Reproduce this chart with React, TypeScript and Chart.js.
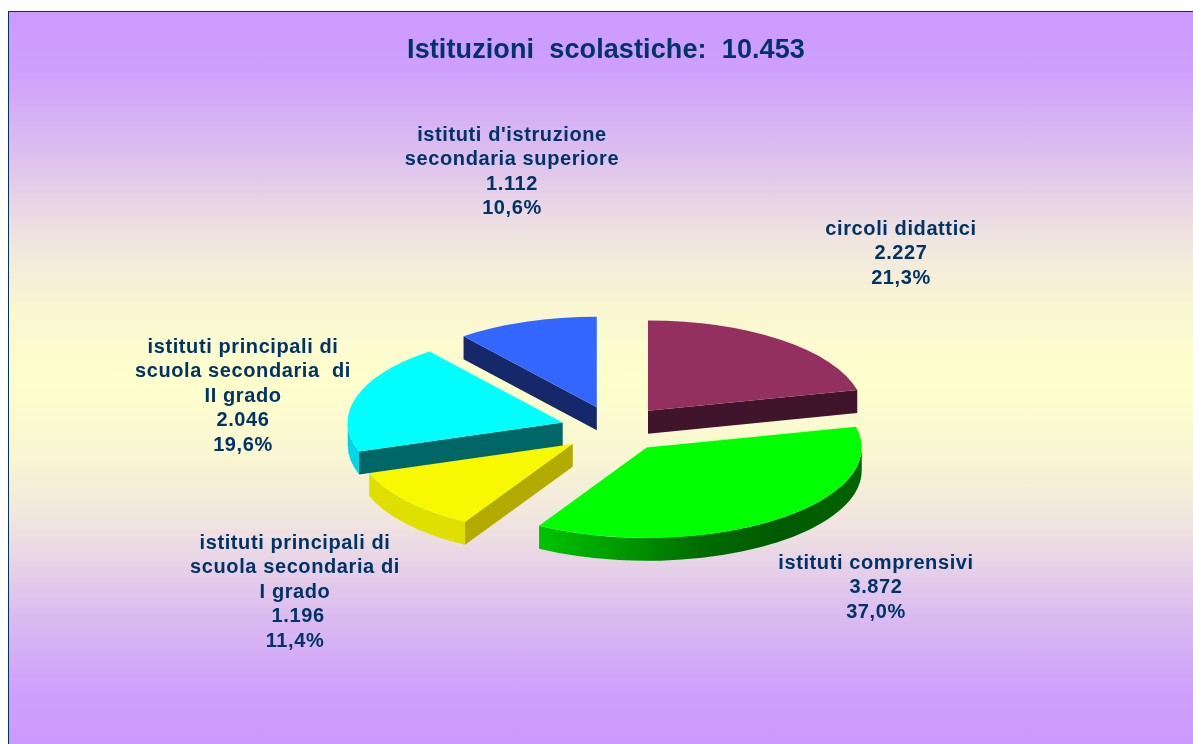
import React, { useEffect, useRef } from "react";
import { Chart, registerables } from "chart.js";

Chart.register(...registerables);

const categories = [
  "circoli didattici",
  "istituti comprensivi",
  "istituti principali di scuola secondaria di I grado",
  "istituti principali di scuola secondaria di II grado",
  "istituti d'istruzione secondaria superiore",
];
const values = [2227, 3872, 1196, 2046, 1112];
const topColors = ["#943060", "#00FF00", "#F8F800", "#00FFFF", "#3366FF"];
const faceColors = ["#40142B", "#006000", "#B3AB00", "#006666", "#14286A"];
const wallStops: string[][] = [
  ["#5A1C3C", "#5A1C3C"],
  ["#00C400", "#009A00", "#006C00", "#005A00", "#006400"],
  ["#DEDE00", "#E0E000", "#F0F000"],
  ["#00D8E8", "#00D0E0"],
  ["#14286A", "#14286A"],
];
const labelLines = [
  ["circoli didattici", "2.227", "21,3%"],
  ["istituti comprensivi", "3.872", "37,0%"],
  ["istituti principali di", "scuola secondaria di", "I grado", " 1.196", "11,4%"],
  ["istituti principali di", "scuola secondaria  di", "II grado", "2.046", "19,6%"],
  ["istituti d'istruzione", "secondaria superiore", "1.112", "10,6%"],
];
const labelCenterX = [901, 876, 295, 243, 512];
const labelFirstY = [229, 563, 543, 347, 135];
const titleText = "Istituzioni  scolastiche:  10.453";
const drawOrder = [4, 0, 2, 3, 1];

const W = 1185;
const H = 733;
const SQUASH = 0.42;
const EXPLODE_SQUASH = 0.428;
const DEPTH = 23;
const EXPLODE = 54;
const RADIUS = 215;
const INK = "#003366";

const pie3d = {
  id: "pie3d",
  beforeDatasetsDraw(chart: any) {
    const { ctx } = chart;
    const arcs = chart.getDatasetMeta(0).data;
    drawOrder.forEach((i) => {
      const arc = arcs[i];
      const { x, y, startAngle: a0, endAngle: a1, outerRadius: R } = arc;
      const mid = (a0 + a1) / 2;
      const cx = x + Math.cos(mid) * EXPLODE;
      const cy = y + Math.sin(mid) * EXPLODE * EXPLODE_SQUASH;
      const px = (a: number) => cx + Math.cos(a) * R;
      const py = (a: number) => cy + Math.sin(a) * R * SQUASH;

      const v0 = Math.max(a0, 0);
      const v1 = Math.min(a1, Math.PI);
      if (v1 > v0) {
        const xs = [px(v0), px(v1), px(a0), px(a1), cx + (v0 <= 0 ? R : 0), cx - (v1 >= Math.PI ? R : 0)];
        const g = ctx.createLinearGradient(Math.min(...xs), 0, Math.max(...xs), 0);
        wallStops[i].forEach((c, n, all) => g.addColorStop(n / (all.length - 1), c));
        ctx.beginPath();
        ctx.ellipse(cx, cy, R, R * SQUASH, 0, v0, v1);
        ctx.ellipse(cx, cy + DEPTH, R, R * SQUASH, 0, v1, v0, true);
        ctx.closePath();
        ctx.fillStyle = g;
        ctx.fill();
      }
      const face = (a: number) => {
        ctx.beginPath();
        ctx.moveTo(cx, cy);
        ctx.lineTo(px(a), py(a));
        ctx.lineTo(px(a), py(a) + DEPTH);
        ctx.lineTo(cx, cy + DEPTH);
        ctx.closePath();
        ctx.fillStyle = faceColors[i];
        ctx.fill();
      };
      if (Math.cos(a0) < -1e-6) face(a0);
      if (Math.cos(a1) > 1e-6) face(a1);

      ctx.save();
      ctx.translate(cx, cy);
      ctx.scale(1, SQUASH);
      ctx.translate(-x, -y);
      arc.draw(ctx);
      ctx.restore();
    });
    return false;
  },
  afterDraw(chart: any) {
    const { ctx } = chart;
    ctx.save();
    ctx.fillStyle = INK;
    ctx.textAlign = "center";
    ctx.textBaseline = "middle";
    ctx.font = "bold 27px 'Liberation Sans'";
    (ctx as any).letterSpacing = "0.1px";
    ctx.fillText(titleText, 606 - 8, 51 - 11);
    ctx.font = "bold 20px 'Liberation Sans'";
    (ctx as any).letterSpacing = "0.6px";
    labelLines.forEach((lines, i) => {
      lines.forEach((line, n) => {
        ctx.fillText(line, labelCenterX[i] - 8, labelFirstY[i] + n * 24.5 - 11);
      });
    });
    ctx.restore();
  },
};

const gradientStops = [
  ["#CC99FF", 11],
  ["#CEA0FC", 70],
  ["#DABAF0", 143],
  ["#F0E4E0", 238],
  ["#F9F6D2", 305],
  ["#FFFFCC", 381],
  ["#F9F6D2", 457],
  ["#F0E4E0", 524],
  ["#DABAF0", 619],
  ["#CEA0FC", 692],
  ["#CC99FF", 744],
];
const backgroundCss = `linear-gradient(180deg, ${gradientStops
  .map(([c, y]) => `${c} ${(y as number) - 11}px`)
  .join(", ")})`;

export default function App() {
  const ref = useRef<HTMLCanvasElement>(null);
  useEffect(() => {
    const chart = new Chart(ref.current as HTMLCanvasElement, {
      type: "pie",
      data: {
        labels: categories,
        datasets: [{ data: values, backgroundColor: topColors, borderWidth: 0 }],
      },
      options: {
        responsive: false,
        animation: false,
        radius: RADIUS,
        layout: { padding: { left: 28, top: 103 } },
        plugins: { legend: { display: false }, tooltip: { enabled: false } },
      } as any,
      plugins: [pie3d],
    });
    return () => chart.destroy();
  }, []);
  return (
    <div
      style={{
        position: "fixed",
        left: 8,
        top: 11,
        width: W,
        height: H,
        boxSizing: "border-box",
        borderLeft: `1px solid ${INK}`,
        borderTop: `1px solid ${INK}`,
        backgroundImage: backgroundCss,
        backgroundOrigin: "border-box",
        overflow: "hidden",
      }}
    >
      <canvas
        ref={ref}
        width={W}
        height={H}
        style={{ position: "absolute", left: -1, top: -1, display: "block" }}
      />
    </div>
  );
}
